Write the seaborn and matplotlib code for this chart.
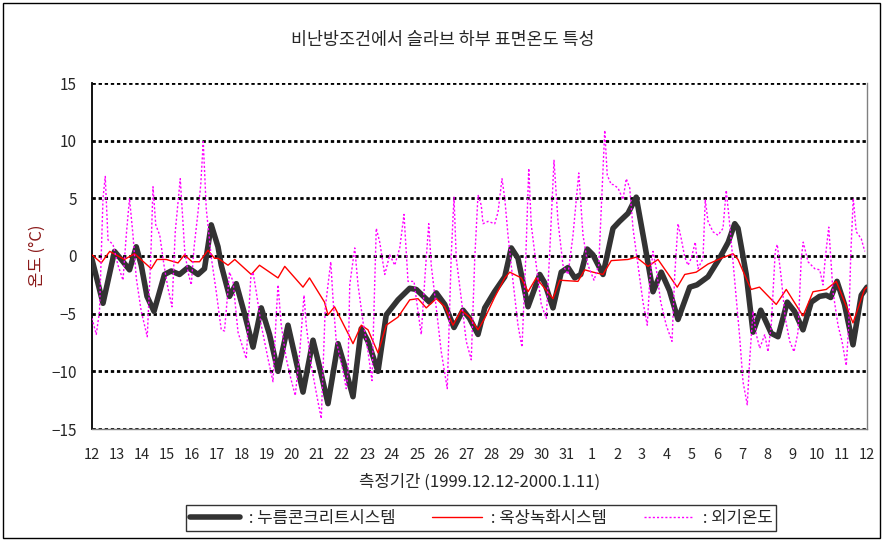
import pandas as pd
import matplotlib.pyplot as plt
import matplotlib.patches as patches
import numpy as np
import seaborn as sns

# days counted from 1999-12-12 00:00
conc_day = [0, 0.44, 0.9, 1.17, 1.5, 1.77, 1.97, 2.2, 2.48, 2.9, 3.17, 3.5, 3.84, 4.24, 4.5, 4.77,
            5.04, 5.17, 5.5, 5.77, 6.1, 6.44, 6.77, 7.1, 7.44, 7.84, 8.1, 8.44, 8.84, 9.1, 9.44, 9.84,
            10.1, 10.44, 10.77, 11.04, 11.44, 11.77, 12.24, 12.71, 12.97, 13.5, 13.77, 14.11, 14.48,
            14.84, 15.1, 15.44, 15.71, 16.1, 16.51, 16.77, 17.04, 17.44, 17.91, 18.1, 18.44, 18.77,
            19.04, 19.31, 19.55, 19.81, 20.04, 20.44, 20.84, 21.1, 21.44, 21.77, 22.11, 22.44, 22.77,
            23.1, 23.44, 23.91, 24.2, 24.64, 25.1, 25.45, 25.71, 25.84, 26.17, 26.44, 26.75, 27.17,
            27.44, 27.81, 28.1, 28.44, 28.77, 29.1, 29.37, 29.55, 29.8, 30.1, 30.44, 30.77, 31.0]
conc_temp = [-0.3, -4.1, 0.4, -0.3, -1.2, 0.8, -0.8, -3.5, -4.8, -1.6, -1.3, -1.6, -1.0, -1.6, -1.1, 2.7,
             0.8, -0.8, -3.5, -2.4, -5.0, -7.9, -4.5, -6.8, -10.0, -6.0, -8.5, -11.8, -7.3, -9.6, -12.8, -7.6,
             -9.5, -12.2, -6.3, -7.4, -10.0, -5.1, -3.8, -2.8, -2.9, -4.0, -3.2, -4.2, -6.2,
             -4.7, -5.4, -6.8, -4.5, -3.1, -1.8, 0.7, -0.2, -4.4, -1.6, -2.3, -4.5, -1.4,
             -1.0, -1.9, -1.6, 0.6, 0.1, -1.6, 2.4, 3.0, 3.7, 5.1, 1.0, -3.1, -1.4,
             -3.0, -5.5, -2.7, -2.5, -1.8, -0.2, 1.2, 2.8, 2.4, -1.6, -6.6, -4.7, -6.7,
             -7.0, -4.0, -4.8, -6.4, -4.0, -3.5, -3.4, -3.6, -2.2, -4.2, -7.7, -3.4, -2.7]

green_day = [0, 0.37, 0.71, 1.3, 1.7, 2.37, 2.6, 2.97, 3.44, 3.7, 4.0, 4.3, 4.64, 4.9, 5.04, 5.44,
             5.71, 6.37, 6.7, 7.44, 7.71, 8.44, 8.7, 9.3, 9.44, 9.7, 10.24, 10.44, 10.77, 11.04,
             11.44, 11.77, 12.24, 12.71, 13.04, 13.37, 13.77, 14.11, 14.44, 14.77, 15.1, 15.44,
             15.71, 16.1, 16.51, 16.71, 17.17, 17.44, 17.77, 18.44, 18.71, 19.44, 19.71, 20.04,
             20.44, 20.77, 21.44, 21.77, 22.24, 22.64, 23.41, 23.71, 24.17, 24.64, 25.17, 25.64,
             25.84, 26.1, 26.37, 26.7, 27.37, 27.77, 28.44, 28.84, 29.37, 29.77, 30.44, 30.9, 31.0]
green_temp = [0.1, -0.6, 0.4, -0.3, 0.2, -1.1, -0.3, -0.3, -0.6, 0.1, -0.5, -0.5, 0.5, -0.2, -0.2, -0.8,
              -0.3, -1.6, -0.8, -1.9, -0.9, -2.7, -1.9, -4.0, -5.1, -4.4, -6.7, -7.6, -6.0, -6.4,
              -8.4, -6.0, -5.3, -3.8, -3.7, -4.5, -3.7, -4.4, -6.0, -4.7, -5.3, -6.4,
              -5.4, -3.6, -1.9, -1.4, -1.9, -3.1, -1.9, -3.7, -2.1, -2.2, -1.2, -1.4,
              -1.6, -0.4, -0.3, -0.1, -0.9, -0.3, -2.7, -1.6, -1.4, -0.7, -0.2, 0.2,
              -0.3, -1.6, -2.9, -2.7, -4.2, -2.9, -5.2, -3.1, -2.9, -2.2, -5.8, -2.9, -2.7]

out_day = [0, 0.17, 0.3, 0.44, 0.53, 0.64, 0.84, 1.04, 1.24, 1.37, 1.5, 1.64, 1.77, 1.97, 2.21, 2.35,
           2.44, 2.55, 2.71, 2.88, 3.04, 3.2, 3.33, 3.53, 3.71, 3.84, 3.97, 4.08, 4.24, 4.35, 4.45,
           4.57, 4.77, 4.97, 5.17, 5.3, 5.5, 5.64, 5.84, 6.17, 6.35, 6.44, 6.57, 6.77, 7.04, 7.24,
           7.37, 7.44, 7.57, 7.77, 7.95, 8.13, 8.31, 8.48, 8.57, 8.77, 9.01, 9.17, 9.33, 9.55, 9.64,
           9.77, 9.97, 10.17, 10.24, 10.31, 10.51, 10.64, 10.84, 11.04, 11.2, 11.37, 11.51, 11.71,
           11.91, 12.11, 12.31, 12.48, 12.64, 12.88, 13.04, 13.17, 13.33, 13.47, 13.57, 13.77, 13.97,
           14.21, 14.37, 14.48, 14.57, 14.77, 14.97, 15.17, 15.31, 15.44, 15.57, 15.64, 15.84, 16.11,
           16.24, 16.4, 16.51, 16.64, 16.84, 17.04, 17.2, 17.35, 17.47, 17.57, 17.77, 17.97, 18.17,
           18.31, 18.48, 18.64, 18.84, 19.04, 19.24, 19.47, 19.64, 19.84, 20.08, 20.27, 20.4, 20.51,
           20.61, 20.77, 20.84, 21.04, 21.24, 21.37, 21.51, 21.64, 21.84, 22.04, 22.21, 22.31, 22.44,
           22.57, 22.75, 22.97, 23.2, 23.31, 23.44, 23.57, 23.71, 23.84, 23.97, 24.13, 24.24, 24.44,
           24.53, 24.64, 24.84, 25.04, 25.24, 25.37, 25.51, 25.71, 25.91, 26.04, 26.21, 26.31, 26.44,
           26.57, 26.71, 26.91, 27.04, 27.17, 27.33, 27.41, 27.57, 27.73, 27.91, 28.08, 28.24, 28.37,
           28.45, 28.64, 28.91, 29.11, 29.24, 29.33, 29.47, 29.64, 29.84, 30.0, 30.17, 30.27, 30.35,
           30.45, 30.57, 30.77, 30.91]
out_temp = [-5.4, -6.8, -4.8, 5.0, 6.9, 1.4, 1.0, -0.8, -2.1, 1.8, 5.0, 1.8, -1.9, -4.8, -7.0, -0.2,
            6.0, 2.7, 1.8, -0.8, -2.8, -4.4, 2.1, 6.7, 0.4, -1.4, -2.5, 0.7, 3.8, 6.2, 9.9,
            4.1, -0.1, -3.1, -6.4, -6.5, -1.4, -2.2, -6.6, -8.9, -1.9, -1.4, -3.1, -6.0, -8.9, -10.9,
            -5.1, -2.5, -6.0, -8.9, -10.6, -12.1, -8.3, -3.4, -6.0, -9.5, -12.3, -14.1, -4.5, -0.5, -3.7,
            -7.4, -9.2, -11.5, -10.0, -2.5, 0.7, -2.5, -5.7, -8.3, -10.8, 2.4, 1.2, -1.6,
            0.1, -0.8, 0.7, 3.6, -2.2, -2.2, -4.8, -6.8, -1.4, 2.8, -0.8, -4.5, -8.3,
            -11.5, 0.1, 5.1, -0.2, -3.7, -7.4, -9.0, -0.2, 5.3, 4.4, 2.8, 3.0, 2.8,
            3.8, 6.7, 5.0, 1.8, -2.2, -6.0, -7.9, -0.2, 7.6, 2.7, -0.8, -4.2, -5.4,
            0.4, 8.3, 3.0, -0.8, -1.6, 1.8, 7.2, 1.8, -0.8, -2.1, -0.8, 5.6, 10.9,
            7.0, 6.2, 6.2, 5.9, 4.9, 6.7, 5.9, 2.4, -0.8, -4.0, -6.0, -2.2, 0.4,
            -1.1, -4.0, -6.0, -7.4, -1.6, 2.8, 1.5, -0.1, -0.8, -0.2, 1.2, -1.1, -0.2,
            4.9, 3.0, 2.1, 1.8, 2.4, 5.7, 2.7, -2.2, -7.1, -10.9, -12.9, -8.9, -4.8,
            -6.8, -8.0, -6.8, -8.3, -6.0, 0.4, 1.0, -1.9, -5.4, -7.4, -8.3, -6.6, -0.2,
            1.2, -0.5, -1.1, -1.2, -2.5, -0.2, 2.5, -3.1, -6.0, -7.4, -9.5, -6.0, 0.1,
            5.0, 2.1, 1.5, 0.4]

tick_labels = [str(d) for d in range(12, 32)] + [str(d) for d in range(1, 13)]
series_names = [' : 누름콘크리트시스템', ' : 옥상녹화시스템', ' : 외기온도']

df_conc = pd.DataFrame({'day': conc_day, 'temp': conc_temp})
df_green = pd.DataFrame({'day': green_day, 'temp': green_temp})
df_out = pd.DataFrame({'day': out_day, 'temp': out_temp})

sns.set_theme(style="white")
plt.rcParams['font.family'] = ['Noto Sans CJK KR', 'DejaVu Sans']
plt.rcParams['axes.unicode_minus'] = True

fig = plt.figure(figsize=(8.89, 5.45), dpi=100)
ax = fig.add_axes([92 / 889, 116 / 545, 775 / 889, 346 / 545])

for v in range(-15, 16, 5):
    ax.axhline(v, color='black', lw=2.0, ls=(0, (1.2, 1.0)), zorder=1)

sns.lineplot(data=df_conc, x='day', y='temp', color='#333333', lw=4.0, estimator=None,
             label=series_names[0], ax=ax, zorder=3)
sns.lineplot(data=df_green, x='day', y='temp', color='#ff0000', lw=1.0, estimator=None,
             label=series_names[1], ax=ax, zorder=4)
sns.lineplot(data=df_out, x='day', y='temp', color='#ff00ff', lw=1.0, ls=(0, (4, 2)), estimator=None,
             label=series_names[2], ax=ax, zorder=5)

ax.set_xlim(0, 31)
ax.set_ylim(-15, 15)
ax.set_xticks(range(32))
ax.set_xticklabels(tick_labels, fontsize=10.5)
ax.set_yticks(range(-15, 16, 5))
ax.tick_params(axis='y', labelsize=11, pad=11)
ax.tick_params(axis='x', pad=14)
ax.tick_params(length=0)

ax.spines['top'].set_visible(False)
ax.spines['left'].set_color('black')
ax.spines['left'].set_linewidth(1.3)
ax.spines['bottom'].set_color('#808080')
ax.spines['right'].set_color('#808080')
ax.spines['bottom'].set_linewidth(1.0)
ax.spines['right'].set_linewidth(1.0)

ax.set_xlabel('측정기간 (1999.12.12-2000.1.11)', fontsize=12, labelpad=8)
ax.set_ylabel('온도 (°C)', fontsize=12, color='#8b1a1a', labelpad=4)
fig.text(443 / 889, 1 - 40 / 545, '비난방조건에서 슬라브 하부 표면온도 특성', ha='center', va='center', fontsize=12.5)

handles, labels = ax.get_legend_handles_labels()
ax.get_legend().remove()
handles[2].set_linestyle((0, (1.5, 1.5)))
leg = fig.legend(handles, labels, loc='center', bbox_to_anchor=(481 / 889, 1 - 518 / 545),
                 ncol=3, fontsize=12, frameon=True, fancybox=False, handlelength=3.0,
                 columnspacing=2.2, handletextpad=0.3, borderpad=0.25)
leg.get_frame().set_edgecolor('black')
leg.get_frame().set_linewidth(1.0)

fig.patches.append(patches.Rectangle((3 / 889, 7 / 545), 877 / 889, 535 / 545, transform=fig.transFigure,
                                     fill=False, edgecolor='black', lw=1.0))

plt.savefig('out.png', dpi=100)
